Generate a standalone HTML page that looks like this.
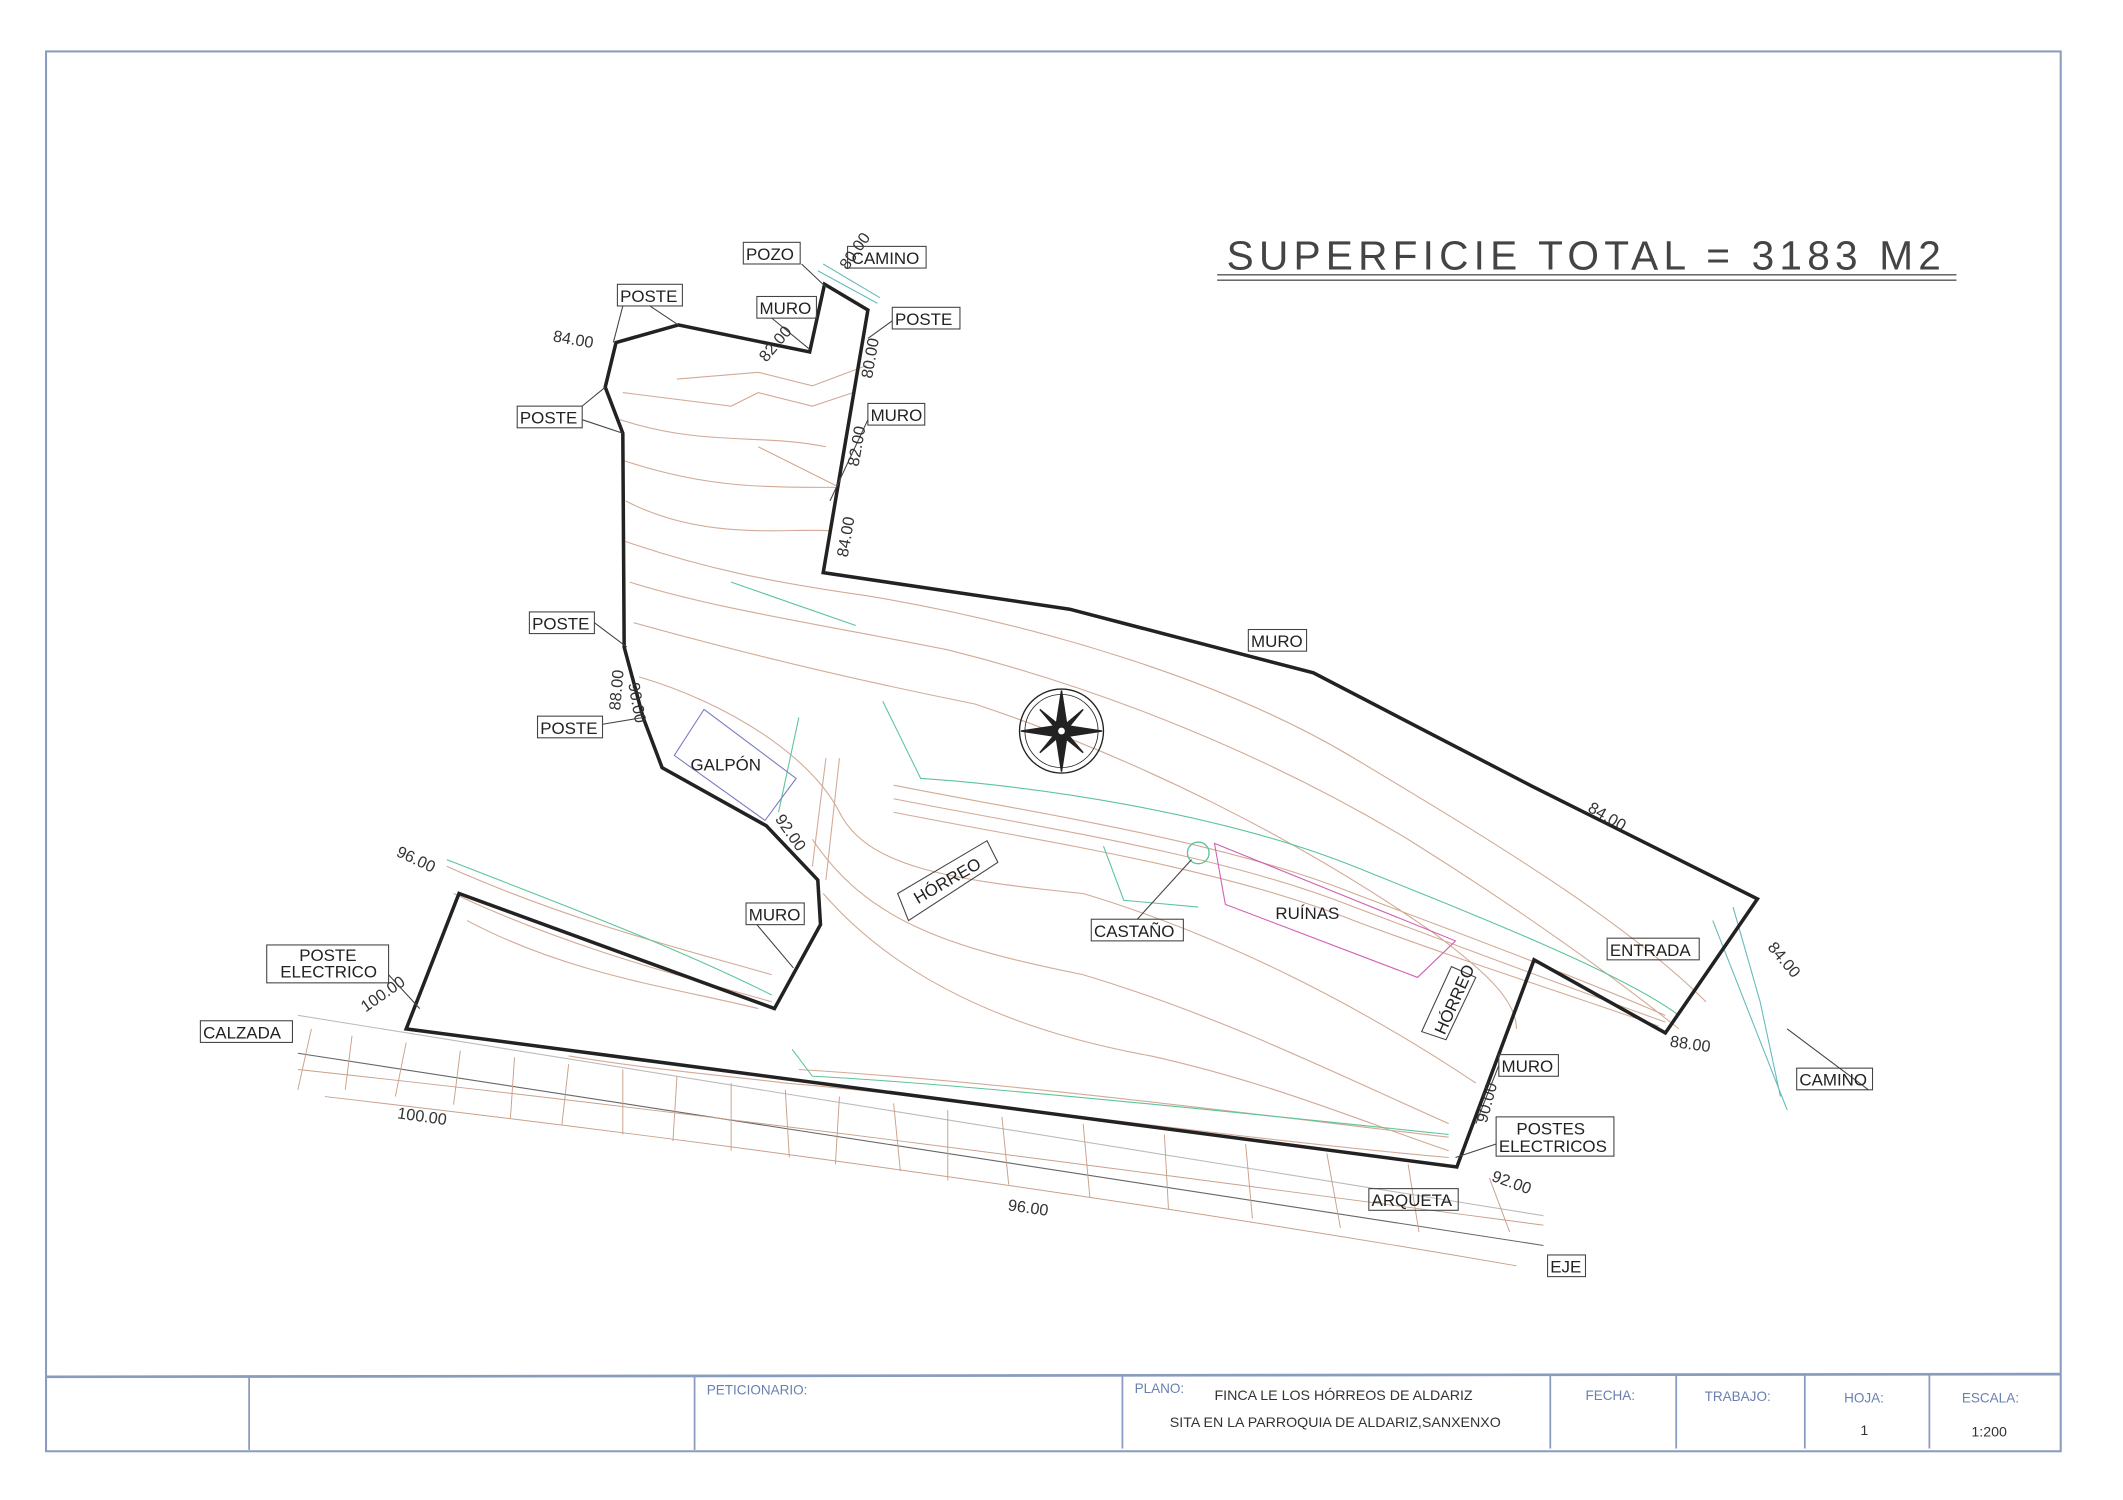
<!DOCTYPE html>
<html><head><meta charset="utf-8"><style>
html,body{margin:0;padding:0;background:#fff;}
svg{display:block;}
text{font-family:"Liberation Sans",sans-serif;}
</style></head><body>
<svg width="2123" height="1500" viewBox="0 0 1568 1108" preserveAspectRatio="none" xmlns="http://www.w3.org/2000/svg">
<rect width="1568" height="1108" fill="#fff"/>
<!-- frame -->
<rect x="34" y="38" width="1488" height="1034" fill="none" stroke="#8a9bc0" stroke-width="1.5"/>
<line x1="34" y1="1017" x2="1522" y2="1015" stroke="#8a9bc0" stroke-width="2"/>
<g stroke="#8a9bc0" stroke-width="1.3">
<line x1="184" y1="1017" x2="184" y2="1071"/><line x1="513" y1="1016" x2="513" y2="1071"/>
<line x1="829" y1="1016" x2="829" y2="1070"/><line x1="1145" y1="1015" x2="1145" y2="1070"/>
<line x1="1238" y1="1015" x2="1238" y2="1070"/><line x1="1333" y1="1015" x2="1333" y2="1070"/>
<line x1="1425" y1="1015" x2="1425" y2="1070"/>
</g>
<g fill="#6a7fb0" font-size="10">
<text x="522" y="1030">PETICIONARIO:</text><text x="838" y="1029">PLANO:</text>
<text x="1171" y="1034">FECHA:</text><text x="1259" y="1035">TRABAJO:</text>
<text x="1362" y="1036">HOJA:</text><text x="1449" y="1036">ESCALA:</text>
</g>
<g fill="#333" font-size="10.5">
<text x="897" y="1034">FINCA LE LOS HÓRREOS DE ALDARIZ</text>
<text x="864" y="1054">SITA EN LA PARROQUIA DE ALDARIZ,SANXENXO</text>
<text x="1374" y="1060">1</text><text x="1456" y="1061">1:200</text>
</g>
<!-- title -->
<text x="906" y="199" font-size="30" fill="#444" letter-spacing="2.5" textLength="530">SUPERFICIE TOTAL = 3183 M2</text>
<line x1="899" y1="203" x2="1445" y2="203" stroke="#555" stroke-width="1"/>
<line x1="899" y1="207" x2="1445" y2="207" stroke="#555" stroke-width="1"/>
<!-- road -->
<g stroke="#666" stroke-width="0.8" fill="none">
<line x1="220" y1="778" x2="1140" y2="920"/>
<line x1="220" y1="750" x2="1140" y2="898" stroke="#bbb"/>
</g>
<g stroke="#c9a08a" stroke-width="0.7" fill="none">
<path d="M230 760 l-10 45 M260 765 l-5 40 M300 770 l-8 40 M340 776 l-5 40 M380 781 l-3 45 M420 786 l-5 45 M460 790 l0 48 M500 795 l-3 48 M540 800 l0 50 M580 805 l3 50 M620 810 l-3 50 M660 815 l5 50 M700 820 l0 52 M740 825 l5 50 M800 830 l5 55 M860 838 l3 55 M920 845 l5 55 M980 852 l10 55 M1040 860 l8 50 M1100 870 l15 40"/>
<path d="M220 790 C500 820 800 860 1140 905" />
<path d="M240 810 C500 840 800 880 1120 935" />
</g>
<!-- contours -->
<g stroke="#d2aa95" stroke-width="0.8" fill="none">
<path d="M500 280 L560 275 L600 285 L640 270"/>
<path d="M460 290 L540 300 L560 290 L600 300 L630 290"/>
<path d="M458 310 C520 330 560 320 610 330"/>
<path d="M460 340 C520 360 560 360 620 360 L560 330"/>
<path d="M462 370 C520 400 580 390 612 392"/>
<path d="M462 400 C520 420 570 430 640 440 C760 460 900 500 1000 560 C1100 620 1200 680 1260 740"/>
<path d="M465 430 C530 450 600 460 700 480 C820 510 940 560 1040 620 C1120 670 1190 720 1240 760"/>
<path d="M468 460 C540 480 620 500 720 520 C840 560 960 620 1060 690 C1100 720 1120 740 1120 760"/>
<path d="M472 500 C540 520 600 560 620 600 C640 640 700 650 800 660 C900 690 1000 740 1090 800"/>
<path d="M600 620 C640 680 700 700 800 720 C900 750 980 790 1070 830"/>
<path d="M608 660 C660 720 740 760 850 780 C940 800 1010 830 1070 850"/>
<path d="M330 640 C420 680 500 700 570 720"/>
<path d="M335 660 C420 700 500 720 570 740"/>
<path d="M345 680 C420 720 500 730 560 745"/>
<path d="M660 580 C760 600 900 620 1000 660 C1080 690 1160 720 1230 750"/>
<path d="M660 590 C760 610 900 630 1000 670 C1080 700 1160 730 1230 755"/>
<path d="M660 600 C760 620 900 640 1000 680 C1080 710 1160 735 1225 758"/>
<path d="M610 560 L600 640 M620 560 L610 650"/>
<path d="M420 780 C480 790 540 795 580 800 C700 810 900 840 1070 855"/>
<path d="M590 790 C750 800 900 820 1070 840"/>
</g>
<g stroke="#5cc49a" stroke-width="0.8" fill="none">
<path d="M540 430 L632 462"/>
<path d="M652 518 L680 575 C760 580 900 600 1000 640 C1100 680 1200 720 1240 750"/>
<path d="M590 530 L575 600"/>
<path d="M330 635 C420 670 500 700 570 735"/>
<path d="M585 775 L600 795 C700 800 900 820 1070 838"/>
<path d="M815 625 L830 665 L885 670"/>
<path d="M1265 680 L1320 820 M1280 670 L1300 740 L1315 810" stroke="#6bb"/>
<path d="M604 200 L648 224 M608 195 L650 220" stroke="#6bb"/>
</g>
<!-- boundary -->
<polygon points="455,253 501,240 598,260 609,210 641,229 608,423 790,450 970,497 1132,581 1298,664 1230,763 1133,709 1076,862 300,760 339,660 572,745 606,683 604,650 566,610 489,567 475,530 461,478 460,320 447,286" fill="none" stroke="#222" stroke-width="2.6" stroke-linejoin="miter"/>
<!-- buildings -->
<polygon points="498,558 520,524 588,575 565,606" fill="none" stroke="#7a7ac0" stroke-width="0.8"/>
<polygon points="897,623 1075,695 1047,722 905,668" fill="none" stroke="#d060b0" stroke-width="0.8"/>
<circle cx="885" cy="630" r="8" fill="none" stroke="#5cc49a"/>
<!-- compass -->
<g transform="translate(784,540)" stroke="#222" fill="#222">
<circle r="31" fill="none" stroke-width="1"/><circle r="27" fill="none" stroke-width="0.6"/>
<polygon points="0,-30 4,-4 30,0 4,4 0,30 -4,4 -30,0 -4,-4"/>
<polygon points="16,-16 3,0 -16,16 -3,0" transform="rotate(0)"/>
<polygon points="-16,-16 0,-3 16,16 0,3"/>
<circle r="3" fill="#fff"/>
</g>
<!-- labels -->
<g font-size="12.5" fill="#222">
<g fill="none" stroke="#444" stroke-width="0.8">
<rect x="549" y="179" width="42" height="16"/><rect x="626" y="182" width="58" height="16"/>
<rect x="456" y="210" width="48" height="16"/><rect x="559" y="219" width="44" height="16"/>
<rect x="659" y="227" width="50" height="16"/><rect x="382" y="300" width="48" height="16"/>
<rect x="641" y="298" width="42" height="16"/><rect x="922" y="465" width="43" height="16"/>
<rect x="391" y="452" width="48" height="16"/><rect x="397" y="529" width="48" height="16"/>
<rect x="551" y="667" width="43" height="16"/><rect x="806" y="679" width="68" height="16"/>
<rect x="1187" y="693" width="68" height="16"/><rect x="197" y="698" width="90" height="28"/>
<rect x="148" y="754" width="68" height="16"/><rect x="1107" y="779" width="44" height="16"/>
<rect x="1327" y="789" width="56" height="16"/><rect x="1105" y="825" width="87" height="29"/>
<rect x="1011" y="878" width="66" height="16"/><rect x="1143" y="927" width="28" height="16"/>
<polygon points="663,660 729,621 737,637 671,680"/><polygon points="1050,762 1072,714 1090,722 1068,768"/>
<path d="M460 226 L453 253 M480 226 L501 240 M430 300 L447 286 M430 310 L460 320 M570 235 L598 258 M659 237 L641 250 M641 310 L613 370 M439 460 L463 478 M445 535 L475 530 M559 683 L586 715 M840 679 L880 635 M287 720 L310 745 M1107 787 L1090 830 M1105 845 L1075 855 M592 195 L610 212 M1380 805 L1320 760"/>
</g>
<text x="551" y="192">POZO</text><text x="629" y="195">CAMINO</text>
<text x="458" y="223">POSTE</text><text x="561" y="232">MURO</text>
<text x="661" y="240">POSTE</text><text x="384" y="313">POSTE</text>
<text x="643" y="311">MURO</text><text x="924" y="478">MURO</text>
<text x="393" y="465">POSTE</text><text x="399" y="542">POSTE</text>
<text x="553" y="680">MURO</text><text x="808" y="692">CASTAÑO</text>
<text x="1189" y="706">ENTRADA</text><text x="221" y="710">POSTE</text><text x="207" y="722">ELECTRICO</text>
<text x="150" y="767">CALZADA</text><text x="1109" y="792">MURO</text>
<text x="1329" y="802">CAMINO</text><text x="1120" y="838">POSTES</text><text x="1107" y="851">ELECTRICOS</text>
<text x="1013" y="891">ARQUETA</text><text x="1145" y="940">EJE</text>
<text x="510" y="569">GALPÓN</text><text x="942" y="679">RUÍNAS</text>
<text x="0" y="0" transform="translate(678,668) rotate(-30)">HÓRREO</text>
<text x="0" y="0" transform="translate(1067,765) rotate(-66)">HÓRREO</text>
</g>
<g font-size="12" fill="#333">
<text transform="translate(408,252) rotate(10)">84.00</text>
<text transform="translate(566,268) rotate(-50)">82.00</text>
<text transform="translate(626,200) rotate(-55)">80.00</text>
<text transform="translate(644,280) rotate(-80)">80.00</text>
<text transform="translate(634,345) rotate(-80)">82.00</text>
<text transform="translate(626,412) rotate(-80)">84.00</text>
<text transform="translate(458,525) rotate(-85)">88.00</text>
<text transform="translate(464,505) rotate(80)">90.00</text>
<text transform="translate(572,605) rotate(55)">92.00</text>
<text transform="translate(292,632) rotate(25)">96.00</text>
<text transform="translate(270,748) rotate(-35)">100.00</text>
<text transform="translate(293,826) rotate(8)">100.00</text>
<text transform="translate(744,894) rotate(8)">96.00</text>
<text transform="translate(1101,872) rotate(20)">92.00</text>
<text transform="translate(1098,830) rotate(-75)">90.00</text>
<text transform="translate(1233,773) rotate(8)">88.00</text>
<text transform="translate(1305,700) rotate(50)">84.00</text>
<text transform="translate(1172,599) rotate(30)">84.00</text>
</g>
</svg>
</body></html>
